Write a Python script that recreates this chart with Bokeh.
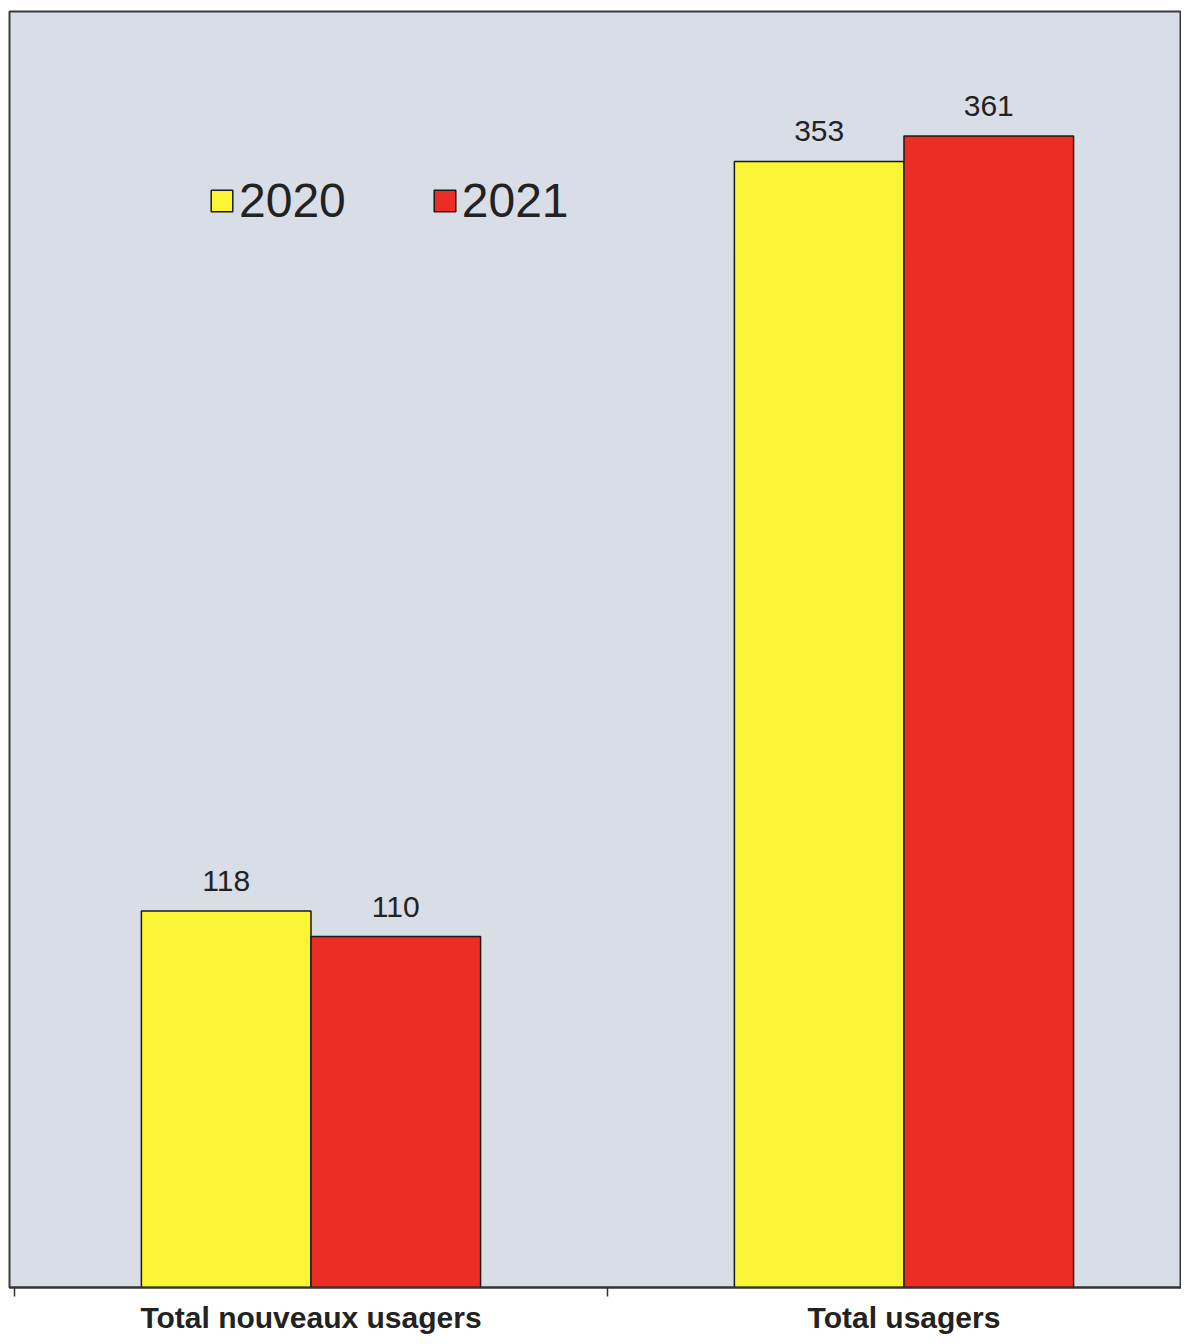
from bokeh.plotting import figure
from bokeh.models import ColumnDataSource, Range1d, FixedTicker, Legend, LegendItem
from bokeh.core.properties import value
from bokeh.embed import file_html
from bokeh.resources import INLINE

categories = ["Total nouveaux usagers", "Total usagers"]
years = ["2020", "2021"]
values_2020 = [118, 353]
values_2021 = [110, 361]
colors = ["#fbf535", "#ec2d25"]

centers = [0.5, 1.5]
offset = 0.143
bar_w = 0.286

p = figure(width=1181, height=1336, output_backend="svg", toolbar_location=None,
           x_range=Range1d(-0.0084, 1.968), y_range=Range1d(0, 400),
           y_axis_location=None, min_border_left=9, min_border_right=0,
           min_border_top=11, min_border_bottom=49)
p.background_fill_color = "#d9dee6"
p.border_fill_color = "white"
p.outline_line_color = "#3a3a3a"
p.outline_line_width = 2
p.grid.visible = False

renderers = []
for i, (yr, vals) in enumerate(zip(years, [values_2020, values_2021])):
    xs = [c + (-offset if i == 0 else offset) for c in centers]
    src = ColumnDataSource(dict(x=xs, top=vals, lab=[str(v) for v in vals]))
    r = p.vbar(x="x", top="top", width=bar_w, source=src, fill_color=colors[i],
               line_color="#1a1a1a", line_width=1.5)
    renderers.append(r)
    p.text(x="x", y="top", text="lab", source=src, text_align="center",
           text_baseline="bottom", y_offset=-20, text_font=value("Liberation Sans"),
           text_font_size="30px", text_color="#222222")

legend = Legend(items=[LegendItem(label=years[i], renderers=[renderers[i]]) for i in range(2)],
                orientation="horizontal", location=(199, 1059),
                label_text_font_size="48px", label_text_font="Liberation Sans",
                label_text_color="#222222",
                glyph_width=27, glyph_height=27, spacing=85, padding=0, margin=0,
                label_standoff=4, background_fill_alpha=0, border_line_color=None)
p.add_layout(legend, "center")

ax = p.xaxis[0]
ax.ticker = FixedTicker(ticks=centers, minor_ticks=[0, 1, 2])
ax.major_label_overrides = {0.5: categories[0], 1.5: categories[1]}
ax.major_tick_line_color = None
ax.major_tick_out = 0
ax.major_tick_in = 0
ax.minor_tick_out = 9
ax.minor_tick_in = 0
ax.minor_tick_line_color = "#333333"
ax.minor_tick_line_width = 1.5
ax.axis_line_color = "#333333"
ax.axis_line_width = 2
ax.major_label_standoff = 4
ax.major_label_text_font = "Liberation Sans"
ax.major_label_text_font_style = "bold"
ax.major_label_text_font_size = "30px"
ax.major_label_text_color = "#222222"

open("out.html", "w").write(file_html(p, INLINE))
